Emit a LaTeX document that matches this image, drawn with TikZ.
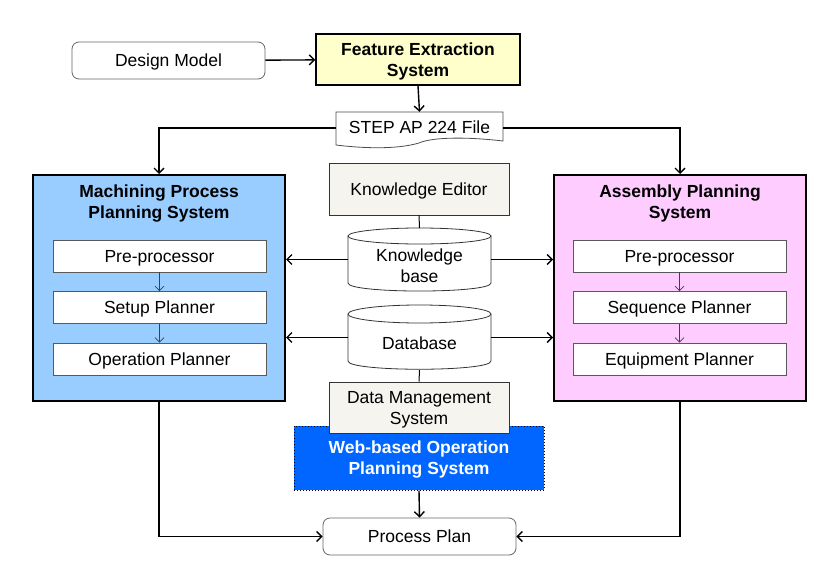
\documentclass[tikz,border=0pt]{standalone}
\usepackage{fontspec}
\setmainfont{Liberation Sans}
\usetikzlibrary{arrows.meta}
\definecolor{mblue}{RGB}{153,204,255}
\definecolor{mpink}{RGB}{255,204,255}
\definecolor{myellow}{RGB}{255,255,204}
\definecolor{wblue}{RGB}{0,102,255}
\definecolor{offw}{RGB}{246,244,239}
\tikzset{
  txt/.style={font=\fontsize{17.5}{21}\selectfont, align=center, inner sep=0pt, text depth=0pt},
  btxt/.style={txt, font=\fontsize{17.5}{21}\selectfont\bfseries},
  roundbox/.style={txt, draw=black!60, line width=0.8pt, rounded corners=7pt, fill=white},
  bigbox/.style={draw=black, line width=2pt},
  inbox/.style={txt, draw=black!65, line width=0.8pt, fill=white, minimum width=213pt, minimum height=32pt},
  plainbox/.style={txt, draw=black!80, line width=0.8pt, fill=offw, minimum width=180pt},
  arr/.style={line width=1.4pt, -{Straight Barb[length=5pt,width=10pt,line width=1.4pt]}},
  conn/.style={line width=1.4pt},
  thinarr/.style={line width=0.7pt, black!75, -{Straight Barb[length=4.5pt,width=9pt,line width=0.7pt]}},
}
\begin{document}
\begin{tikzpicture}[x=1pt,y=-1pt]
\useasboundingbox (0,0) rectangle (840,567);

% top row
\node[roundbox, minimum width=193pt, minimum height=37pt] (dm) at (168.5,60.5) {Design Model};
\node[btxt, draw=black, line width=1.6pt, fill=myellow, minimum width=204pt, minimum height=51pt] (fes) at (418,59.5) {Feature Extraction\\System};

% STEP file (document shape)
\node[txt, minimum width=167pt, minimum height=32pt] (step) at (419.5,128) {};
\draw[line width=0.8pt, black!70, fill=white] (336,112) -- (503,112) -- (503,141)
  .. controls (460,136) and (430,138) .. (419,143)
  .. controls (395,150) and (360,148) .. (336,145) -- cycle;
\node[txt] at (419.5,127.5) {STEP AP 224 File};

% Machining process planning system
\node[bigbox, fill=mblue, minimum width=252pt, minimum height=226pt, inner sep=0pt] (mpps) at (159,288) {};
\node[btxt] (mppst) at (159,202) {Machining Process\\Planning System};
\node[inbox] (mpre) at (159.5,256) {Pre-processor};
\node[inbox] (msetup) at (159.5,307.5) {Setup Planner};
\node[inbox] (mop) at (159.5,359) {Operation Planner};
\draw[thinarr] (mpre) -- (msetup);
\draw[thinarr] (msetup) -- (mop);

% Assembly planning system
\node[bigbox, fill=mpink, minimum width=252pt, minimum height=226pt, inner sep=0pt] (aps) at (680,288) {};
\node[btxt] (apst) at (680,202) {Assembly Planning\\System};
\node[inbox] (apre) at (679.5,256) {Pre-processor};
\node[inbox] (aseq) at (679.5,307.5) {Sequence Planner};
\node[inbox] (aeq) at (679.5,359) {Equipment Planner};
\draw[thinarr] (apre) -- (aseq);
\draw[thinarr] (aseq) -- (aeq);

% Knowledge editor
\node[plainbox, minimum height=52pt] (ke) at (419,189) {Knowledge Editor};

% Knowledge base cylinder
\node[minimum width=143pt, minimum height=63pt, inner sep=0pt] (kb) at (419.5,259.5) {};
\draw[line width=0.8pt, black!80, fill=white] (348,236) -- (348,283)
  .. controls (348,293.7) and (491,293.7) .. (491,283) -- (491,236);
\draw[line width=0.8pt, black!80, fill=white] (419.5,236) ellipse [x radius=71.5, y radius=8];
\node[txt] at (419.5,266) {Knowledge\\base};

% Database cylinder
\node[minimum width=143pt, minimum height=65pt, inner sep=0pt] (db) at (419.5,337.5) {};
\draw[line width=0.8pt, black!80, fill=white] (348,314) -- (348,361)
  .. controls (348,372) and (491,372) .. (491,361) -- (491,314);
\draw[line width=0.8pt, black!80, fill=white] (419.5,314) ellipse [x radius=71.5, y radius=9];
\node[txt] at (419.5,343) {Database};

% Web-based OPS and DMS
\node[btxt, text=white, fill=wblue, draw=black, dotted, line width=1pt, minimum width=250pt, minimum height=64pt] (wops) at (419,458) {Web-based Operation\\Planning System};
\node[plainbox, minimum height=51pt] (dms) at (419,407.5) {Data Management\\System};

% Process plan
\node[roundbox, minimum width=193pt, minimum height=37pt] (pp) at (419.5,536.5) {Process Plan};

% connectors
\draw[arr] (dm) -- (fes);
\draw[arr] (fes.south) -- (step.north);
\draw[arr] (step.west) -| (mpps.north);
\draw[arr] (step.east) -| (aps.north);
\draw[conn, line width=1pt] (ke.south) -- (kb.north);
\draw[arr] (kb.west) -- (kb.west -| mpps.east);
\draw[arr] (kb.east) -- (kb.east -| aps.west);
\draw[arr] (db.west) -- (db.west -| mpps.east);
\draw[arr] (db.east) -- (db.east -| aps.west);
\draw[conn, line width=1pt] (db.south) -- (dms.north);
\draw[arr] (wops.south) -- (pp.north);
\draw[arr] (mpps.south) |- (pp.west);
\draw[arr] (aps.south) |- (pp.east);
\end{tikzpicture}
\end{document}
